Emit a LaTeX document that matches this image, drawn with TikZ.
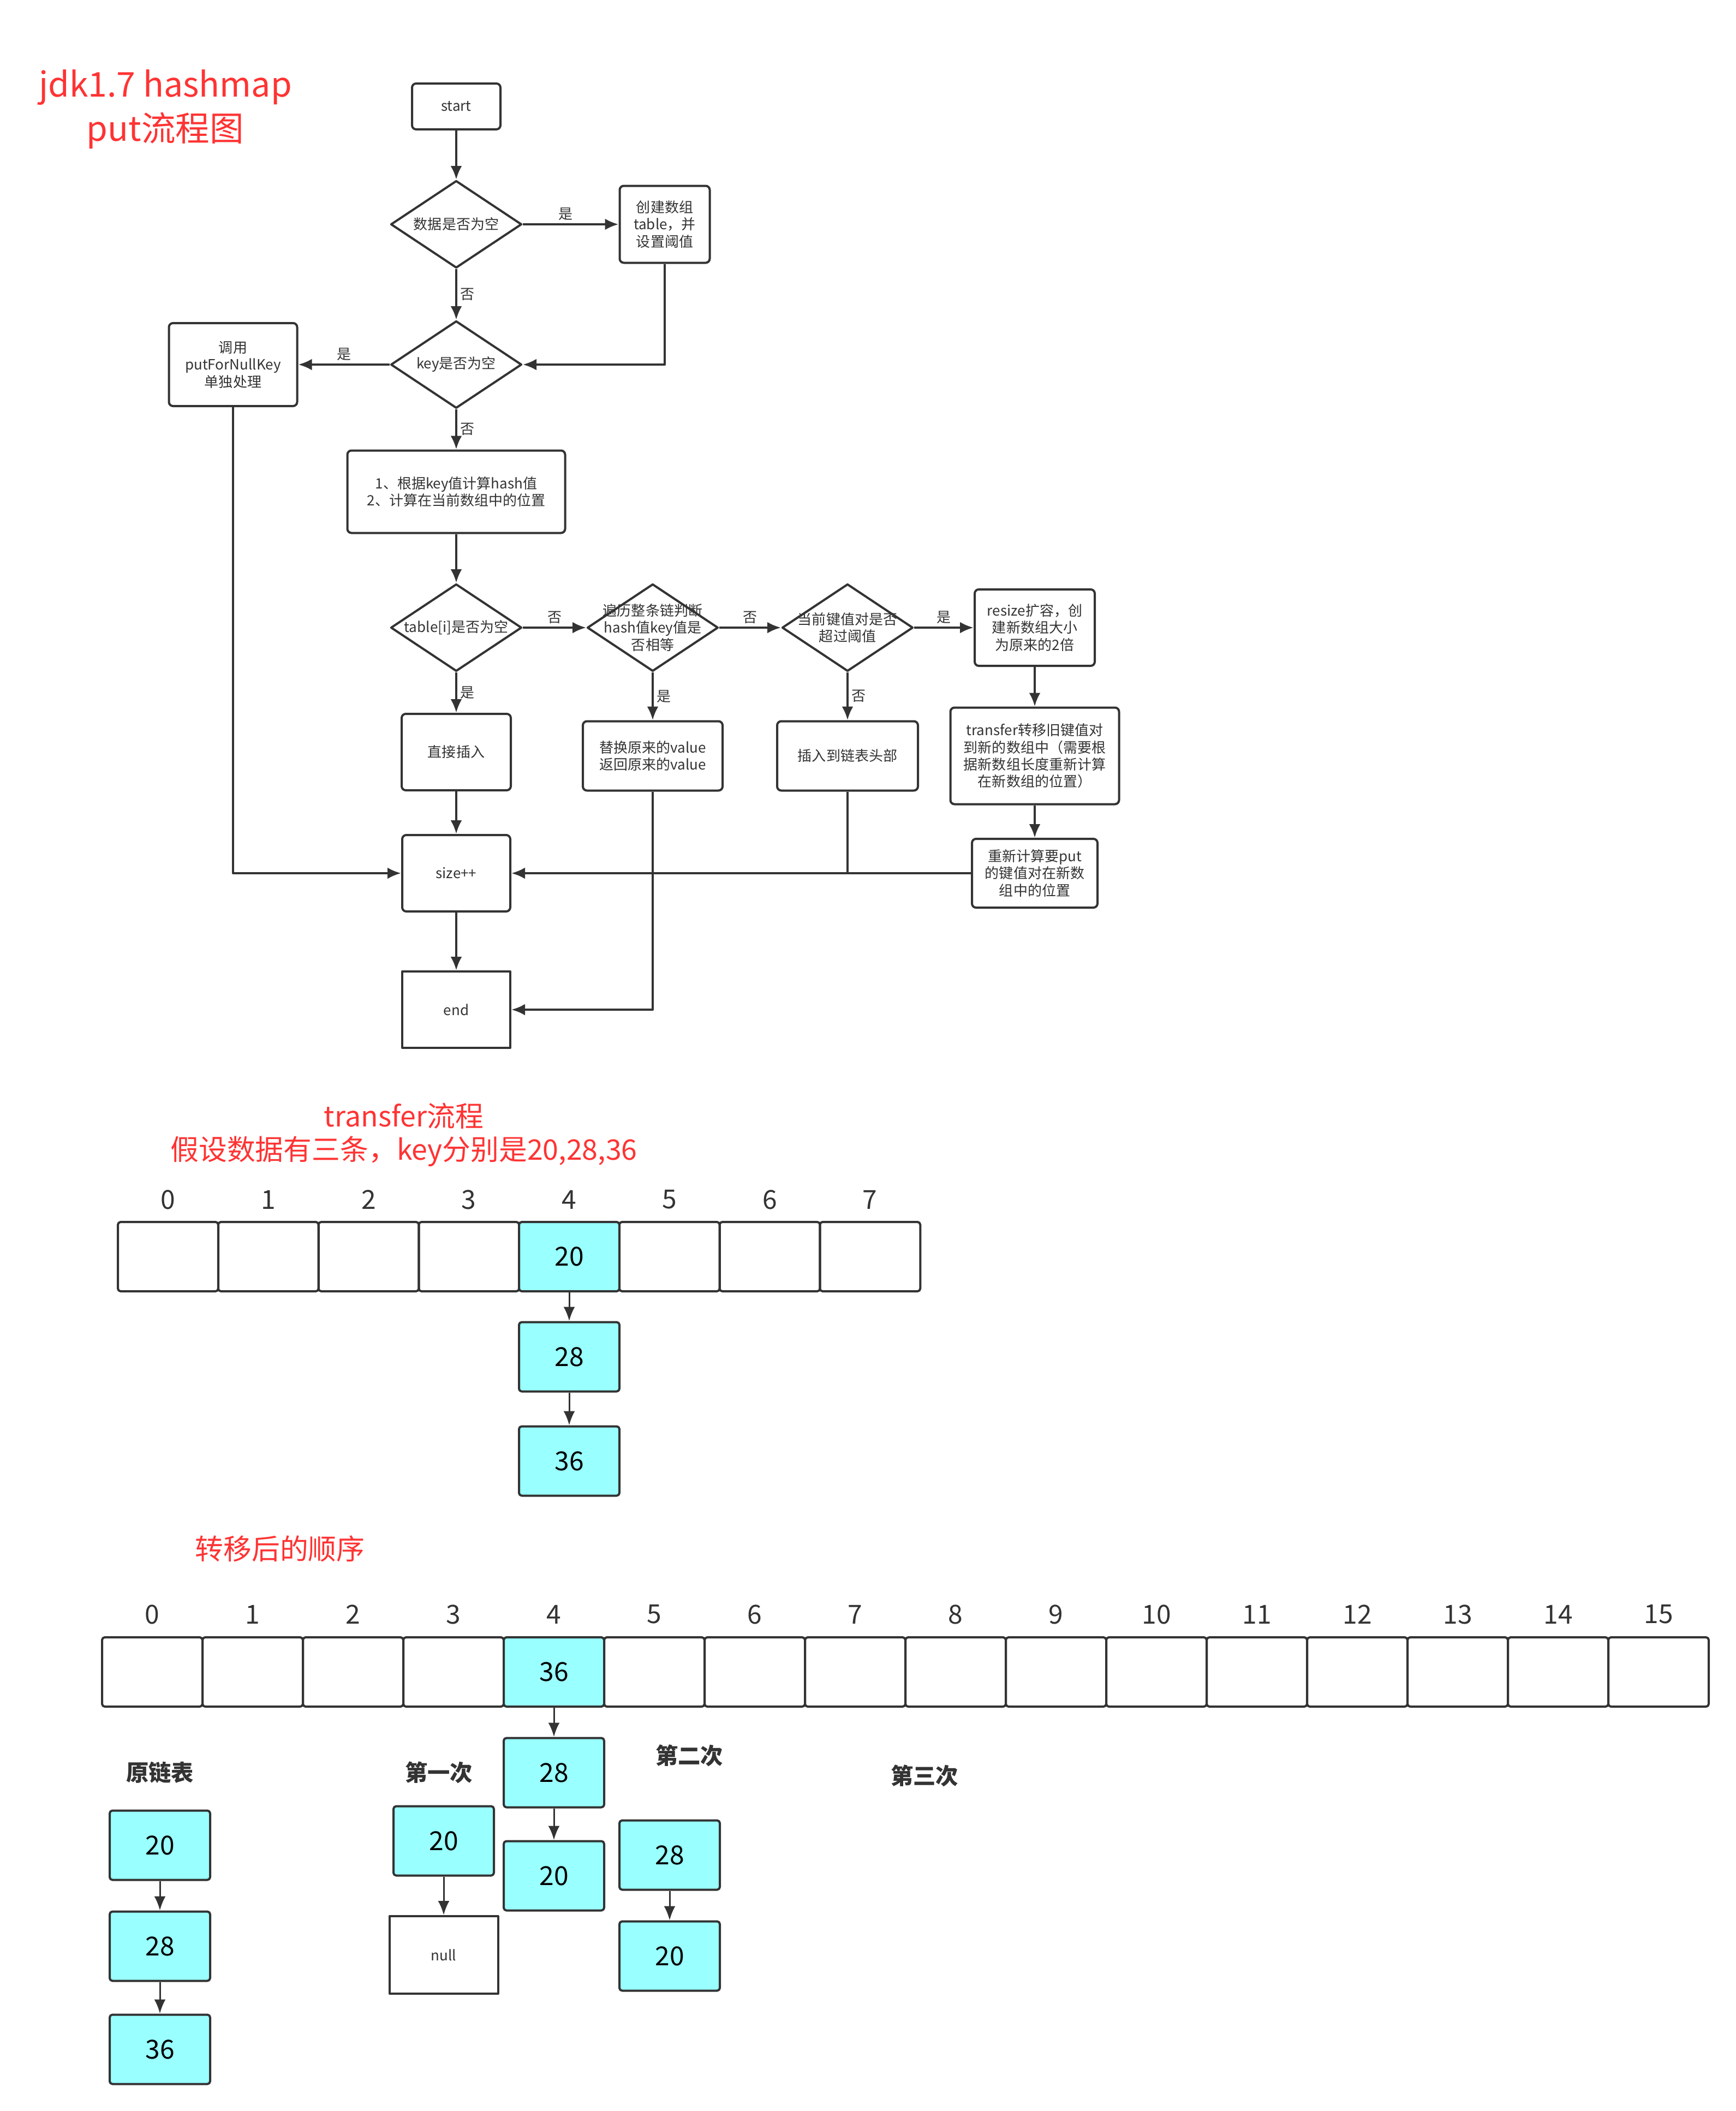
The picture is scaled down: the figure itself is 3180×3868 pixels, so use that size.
\documentclass[tikz,border=0pt]{standalone}
\usepackage{fontspec}
\setmainfont{Noto Sans CJK SC}
\usetikzlibrary{arrows.meta,shapes.geometric}
\definecolor{flowline}{HTML}{333333}
\definecolor{bucketcyan}{HTML}{99FFFF}
\definecolor{titlered}{HTML}{FF3333}

\begin{document}
\begin{tikzpicture}[
  x=0.2mm,
  y=-0.2mm,
  line join=round,
  proc/.style={draw=flowline,line width=0.8mm,rounded corners=1.5mm,fill=white,text=flowline,align=center,inner sep=0pt,font=\fontsize{14.8}{17.9}\selectfont},
  decision/.style={diamond,draw=flowline,line width=0.8mm,fill=white,inner sep=0pt,minimum width=48mm,minimum height=32mm},
  flowtext/.style={text=flowline,align=center,inner sep=0pt,font=\fontsize{14.8}{17.9}\selectfont},
  yesno/.style={text=flowline,font=\fontsize{14.8}{17.9}\selectfont},
  flowedge/.style={draw=flowline,line width=0.8mm},
  flowarrow/.style={flowedge,-{Latex[length=5mm,width=4.2mm]}},
  cell/.style={draw=flowline,line width=0.8mm,rounded corners=1mm,minimum width=36.8mm,minimum height=25.4mm,inner sep=0pt,text=black,font=\fontsize{27.3}{30}\selectfont},
  filled/.style={cell,fill=bucketcyan},
  indexlabel/.style={text=flowline,inner sep=0pt,font=\fontsize{27.3}{30}\selectfont},
  chainarrow/.style={draw=flowline,line width=0.6mm,-{Latex[length=5.2mm,width=4.2mm]}},
  heading/.style={text=titlered,align=center,inner sep=0pt},
  steplabel/.style={text=flowline,inner sep=0pt,font=\fontsize{23.5}{28}\selectfont\bfseries}
]
  \useasboundingbox (0,0) rectangle (3180,3868);

  % Red page title.
  \node[heading,font=\fontsize{35.6}{46}\selectfont] (pagetitle) at (303,200) {jdk1.7 hashmap\\put流程图};

  % Main column of the put flow.
  \node[proc,minimum width=32.4mm,minimum height=16.8mm] (start) at (836,195) {start};
  \node[decision] (isempty) at (836,411) {};
  \node[flowtext] (isemptytext) at (isempty) {数据是否为空};
  \node[proc,minimum width=33mm,minimum height=28.2mm] (create) at (1218,411) {创建数组\\table，并\\设置阈值};
  \node[decision] (keynull) at (836,668) {};
  \node[flowtext] (keynulltext) at (keynull) {key是否为空};
  \node[proc,minimum width=47mm,minimum height=30.4mm] (nullkey) at (427,668) {调用\\putForNullKey\\单独处理};
  \node[proc,minimum width=79.8mm,minimum height=30.2mm] (hash) at (836,901) {1、根据key值计算hash值\\2、计算在当前数组中的位置};

  % Bucket checks, left to right.
  \node[decision] (slotnull) at (836,1150) {};
  \node[flowtext] (slotnulltext) at (slotnull) {table[i]是否为空};
  \node[decision] (keyequal) at (1196,1150) {};
  \node[flowtext] (keyequaltext) at (keyequal) {遍历整条链判断\\hash值key值是\\否相等};
  \node[decision] (overload) at (1553,1150) {};
  \node[flowtext] (overloadtext) at (overload) {当前键值对是否\\超过阈值};
  \node[proc,minimum width=44mm,minimum height=28mm] (resize) at (1896,1150) {resize扩容，创\\建新数组大小\\为原来的2倍};

  % Outcomes of the checks.
  \node[proc,minimum width=40mm,minimum height=28mm] (direct) at (836,1378) {直接插入};
  \node[proc,minimum width=51.2mm,minimum height=25.4mm] (replace) at (1196,1385) {替换原来的value\\返回原来的value};
  \node[proc,minimum width=51.6mm,minimum height=25.4mm] (headins) at (1553,1385) {插入到链表头部};
  \node[proc,minimum width=61.8mm,minimum height=35.4mm] (transfer) at (1896,1385) {transfer转移旧键值对\\到新的数组中（需要根\\据新数组长度重新计算\\在新数组的位置）};
  \node[proc,minimum width=46mm,minimum height=25.2mm] (recalc) at (1896,1600) {重新计算要put\\的键值对在新数\\组中的位置};
  \node[proc,minimum width=39.6mm,minimum height=28mm] (size) at (836,1600) {size++};
  \node[proc,sharp corners,minimum width=39.6mm,minimum height=28mm] (finish) at (836,1850) {end};

  % Flow connectors with their yes/no labels.
  \draw[flowarrow] (start.south) -- (isempty.north);
  \draw[flowarrow] (isempty.east) -- node[yesno,above,pos=0.45] (yes1) {是} (create.west);
  \draw[flowarrow] (isempty.south) -- node[yesno,right] (no1) {否} (keynull.north);
  \draw[flowarrow] (create.south) |- (keynull.east);
  \draw[flowarrow] (keynull.west) -- node[yesno,above] (yes2) {是} (nullkey.east);
  \draw[flowarrow] (keynull.south) -- node[yesno,right] (no2) {否} (hash.north);
  \draw[flowarrow] (hash.south) -- (slotnull.north);
  \draw[flowarrow] (slotnull.east) -- node[yesno,above] (no3) {否} (keyequal.west);
  \draw[flowarrow] (keyequal.east) -- node[yesno,above] (no4) {否} (overload.west);
  \draw[flowarrow] (overload.east) -- node[yesno,above] (yes3) {是} (resize.west);
  \draw[flowarrow] (slotnull.south) -- node[yesno,right] (yes4) {是} (direct.north);
  \draw[flowarrow] (keyequal.south) -- node[yesno,right] (yes5) {是} (replace.north);
  \draw[flowarrow] (overload.south) -- node[yesno,right] (no5) {否} (headins.north);
  \draw[flowarrow] (resize.south) -- (transfer.north);
  \draw[flowarrow] (transfer.south) -- (recalc.north);
  \draw[flowarrow] (direct.south) -- (size.north);
  \draw[flowarrow] (size.south) -- (finish.north);
  \draw[flowarrow] (nullkey.south) |- (size.west);
  \draw[flowarrow] (recalc.west) -- (size.east);
  \draw[flowedge] (headins.south) -- (headins.south |- recalc.west);
  \draw[flowarrow] (replace.south) |- (finish.east);

  % Old table of length 8.
  \node[heading,font=\fontsize{29.5}{34.7}\selectfont] (transfertitle) at (740,2079) {transfer流程\\假设数据有三条，key分别是20,28,36};
  \foreach \i in {0,...,7} {
    \node[indexlabel] (oldidx\i) at ({308+183.75*\i},2198) {\i};
  }
  \foreach \i in {0,1,2,3,5,6,7} {
    \node[cell] (old\i) at ({308+183.75*\i},2302.5) {};
  }
  \node[filled] (old4) at (1043,2302.5) {20};
  \node[filled] (oldb) at (1043,2486) {28};
  \node[filled] (oldc) at (1043,2677) {36};
  \draw[chainarrow] (old4.south) -- (oldb.north);
  \draw[chainarrow] (oldb.south) -- (oldc.north);

  % New table of length 16.
  \node[heading,font=\fontsize{29.5}{34.7}\selectfont] (aftertitle) at (513,2838) {转移后的顺序};
  \foreach \i in {0,...,15} {
    \node[indexlabel] (newidx\i) at ({279+184*\i},2958) {\i};
  }
  \foreach \i in {0,1,2,3,5,6,...,15} {
    \node[cell] (new\i) at ({279+184*\i},3063.5) {};
  }
  \node[filled] (new4) at (1015,3063.5) {36};
  \node[filled] (newb) at (1015,3248) {28};
  \node[filled] (newc) at (1015,3437) {20};
  \draw[chainarrow] (new4.south) -- (newb.north);
  \draw[chainarrow] (newb.south) -- (newc.north);

  % Original chain and the transfer steps.
  \node[steplabel] (origlabel) at (293,3248) {原链表};
  \node[filled] (orig20) at (293,3381) {20};
  \node[filled] (orig28) at (293,3566) {28};
  \node[filled] (orig36) at (293,3755) {36};
  \draw[chainarrow] (orig20.south) -- (orig28.north);
  \draw[chainarrow] (orig28.south) -- (orig36.north);

  \node[steplabel] (firstlabel) at (804,3248) {第一次};
  \node[filled] (first20) at (813,3373) {20};
  \node[proc,sharp corners,minimum width=39.8mm,minimum height=28.4mm] (nullbox) at (813,3582) {null};
  \draw[chainarrow] (first20.south) -- (nullbox.north);

  \node[steplabel] (secondlabel) at (1263,3217) {第二次};
  \node[filled] (second28) at (1227,3399) {28};
  \node[filled] (second20) at (1227,3584) {20};
  \draw[chainarrow] (second28.south) -- (second20.north);

  \node[steplabel] (thirdlabel) at (1694,3254) {第三次};
\end{tikzpicture}
\end{document}
